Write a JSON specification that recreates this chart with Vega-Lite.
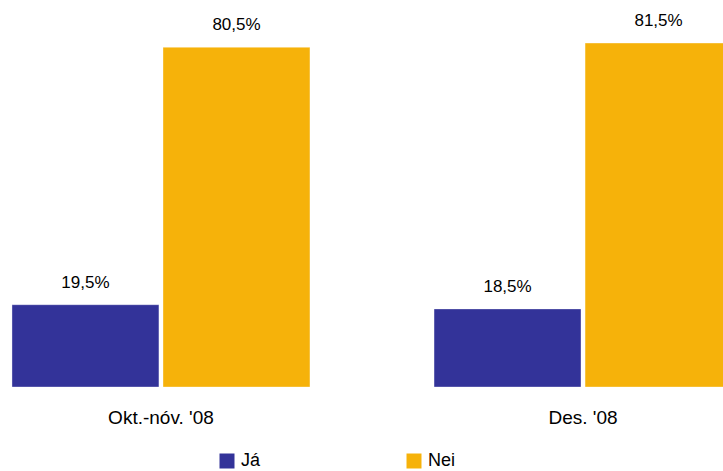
{
  "$schema": "https://vega.github.io/schema/vega-lite/v6.json",
  "width": 723,
  "height": 387,
  "padding": {"left": 0, "top": 0, "right": 0, "bottom": 84},
  "autosize": {"type": "none"},
  "background": "white",
  "config": {"view": {"stroke": null}},
  "data": {
    "values": [
      {"period": "Okt.-nóv. '08", "answer": "Já", "value": 19.5, "label": "19,5%"},
      {"period": "Okt.-nóv. '08", "answer": "Nei", "value": 80.5, "label": "80,5%"},
      {"period": "Des. '08", "answer": "Já", "value": 18.5, "label": "18,5%"},
      {"period": "Des. '08", "answer": "Nei", "value": 81.5, "label": "81,5%"}
    ]
  },
  "encoding": {
    "x": {
      "field": "period",
      "type": "nominal",
      "sort": ["Okt.-nóv. '08", "Des. '08"],
      "scale": {"range": [0, 744], "paddingInner": 0.294, "paddingOuter": 0.0284},
      "axis": {
        "title": null,
        "domain": false,
        "ticks": false,
        "labelAngle": 0,
        "labelFont": "Liberation Sans",
        "labelFontSize": 19,
        "labelColor": "#000000",
        "labelPadding": 21
      }
    },
    "xOffset": {
      "field": "answer",
      "type": "nominal",
      "sort": ["Já", "Nei"],
      "scale": {"paddingInner": 0.027, "paddingOuter": 0}
    },
    "y": {
      "field": "value",
      "type": "quantitative",
      "scale": {"domain": [0, 91.7], "nice": false},
      "axis": null
    }
  },
  "layer": [
    {
      "mark": {"type": "bar", "stroke": "#ffffff", "strokeOpacity": 0.35, "strokeWidth": 1},
      "encoding": {
        "color": {
          "field": "answer",
          "type": "nominal",
          "sort": ["Já", "Nei"],
          "scale": {"domain": ["Já", "Nei"], "range": ["#333399", "#F6B20A"]},
          "legend": {
            "title": null,
            "orient": "none",
            "legendX": 218,
            "legendY": 452,
            "direction": "horizontal",
            "columns": 2,
            "columnPadding": 144,
            "symbolType": "square",
            "symbolSize": 225,
            "symbolStrokeWidth": 0,
            "labelFont": "Liberation Sans",
            "labelFontSize": 18,
            "labelColor": "#000000",
            "labelOffset": 5
          }
        }
      }
    },
    {
      "mark": {
        "type": "text",
        "baseline": "alphabetic",
        "dy": -17,
        "font": "Liberation Sans",
        "fontSize": 17,
        "color": "#000000"
      },
      "encoding": {
        "text": {"field": "label"}
      }
    }
  ]
}
